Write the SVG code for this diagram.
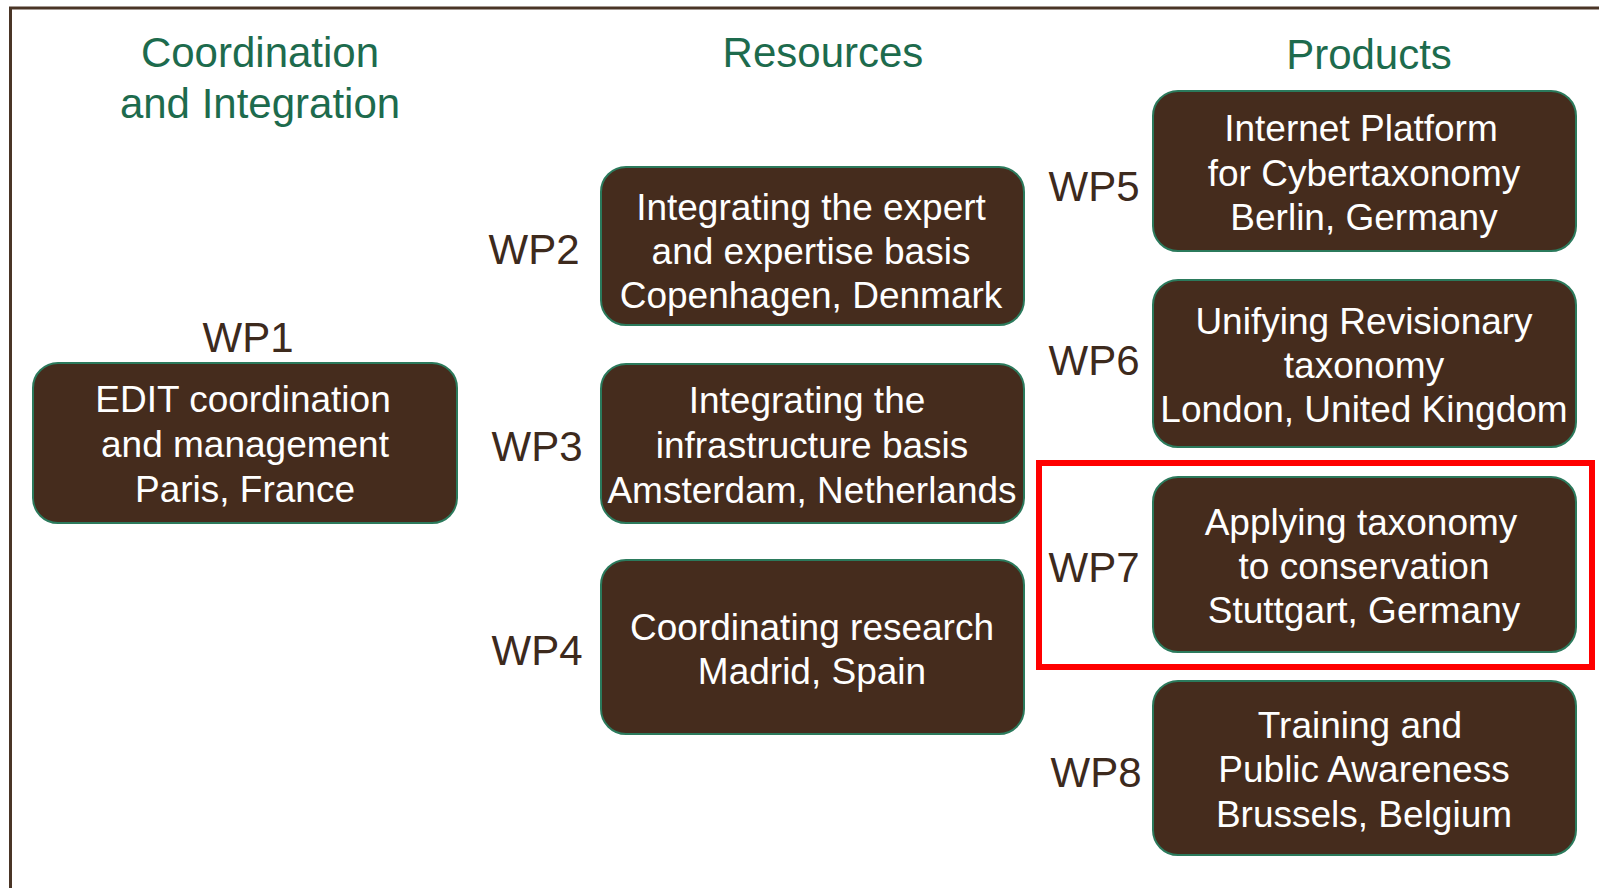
<svg xmlns="http://www.w3.org/2000/svg" width="1599" height="888" viewBox="0 0 1599 888">
<style>
.box{fill:#452c1d;stroke:#2b7a5c;stroke-width:2}
.bt{font-family:"Liberation Sans",Arial,sans-serif;font-size:37px;fill:#ffffff;text-anchor:middle}
.wp{font-family:"Liberation Sans",Arial,sans-serif;font-size:42px;fill:#3d2a1d;text-anchor:middle}
.hd{font-family:"Liberation Sans",Arial,sans-serif;font-size:42px;fill:#1d6b4d;text-anchor:middle}
</style>
<rect width="1599" height="888" fill="#ffffff"/>
<path d="M10.5,890 V8 H1602" fill="none" stroke="#4a3526" stroke-width="3"/>
<g id="headers">
<text class="hd" x="260" y="67">Coordination</text>
<text class="hd" x="260" y="118">and Integration</text>
<text class="hd" x="823" y="67">Resources</text>
<text class="hd" x="1369" y="69">Products</text>
</g>
<g id="wp1">
<text class="wp" x="248" y="352">WP1</text>
<rect class="box" x="33" y="363" width="424" height="160" rx="25"/>
<text class="bt" x="243" y="412">EDIT coordination</text>
<text class="bt" x="245" y="457">and management</text>
<text class="bt" x="245" y="502">Paris, France</text>
</g>
<g id="wp2">
<text class="wp" x="534" y="264">WP2</text>
<rect class="box" x="601" y="167" width="423" height="158" rx="25"/>
<text class="bt" x="811" y="220">Integrating the expert</text>
<text class="bt" x="811" y="264">and expertise basis</text>
<text class="bt" x="811" y="308">Copenhagen, Denmark</text>
</g>
<g id="wp3">
<text class="wp" x="537" y="461">WP3</text>
<rect class="box" x="601" y="364" width="423" height="159" rx="25"/>
<text class="bt" x="807" y="413">Integrating the</text>
<text class="bt" x="812" y="458">infrastructure basis</text>
<text class="bt" x="812" y="503">Amsterdam, Netherlands</text>
</g>
<g id="wp4">
<text class="wp" x="537" y="665">WP4</text>
<rect class="box" x="601" y="560" width="423" height="174" rx="25"/>
<text class="bt" x="812" y="640">Coordinating research</text>
<text class="bt" x="812" y="684">Madrid, Spain</text>
</g>
<g id="wp5">
<text class="wp" x="1094" y="201">WP5</text>
<rect class="box" x="1153" y="91" width="423" height="160" rx="25"/>
<text class="bt" x="1361" y="141">Internet Platform</text>
<text class="bt" x="1364" y="186">for Cybertaxonomy</text>
<text class="bt" x="1364" y="230">Berlin, Germany</text>
</g>
<g id="wp6">
<text class="wp" x="1094" y="375">WP6</text>
<rect class="box" x="1153" y="280" width="423" height="167" rx="25"/>
<text class="bt" x="1364" y="334">Unifying Revisionary</text>
<text class="bt" x="1364" y="378">taxonomy</text>
<text class="bt" x="1364" y="422">London, United Kingdom</text>
</g>
<g id="wp7">
<rect x="1039" y="463" width="553" height="204" fill="none" stroke="#ff0000" stroke-width="6"/>
<text class="wp" x="1094" y="582">WP7</text>
<rect class="box" x="1153" y="477" width="423" height="175" rx="25"/>
<text class="bt" x="1361" y="535">Applying taxonomy</text>
<text class="bt" x="1364" y="579">to conservation</text>
<text class="bt" x="1364" y="623">Stuttgart, Germany</text>
</g>
<g id="wp8">
<text class="wp" x="1096" y="787">WP8</text>
<rect class="box" x="1153" y="681" width="423" height="174" rx="25"/>
<text class="bt" x="1360" y="738">Training and</text>
<text class="bt" x="1364" y="782">Public Awareness</text>
<text class="bt" x="1364" y="827">Brussels, Belgium</text>
</g>
<g id="connectors"></g>
</svg>
